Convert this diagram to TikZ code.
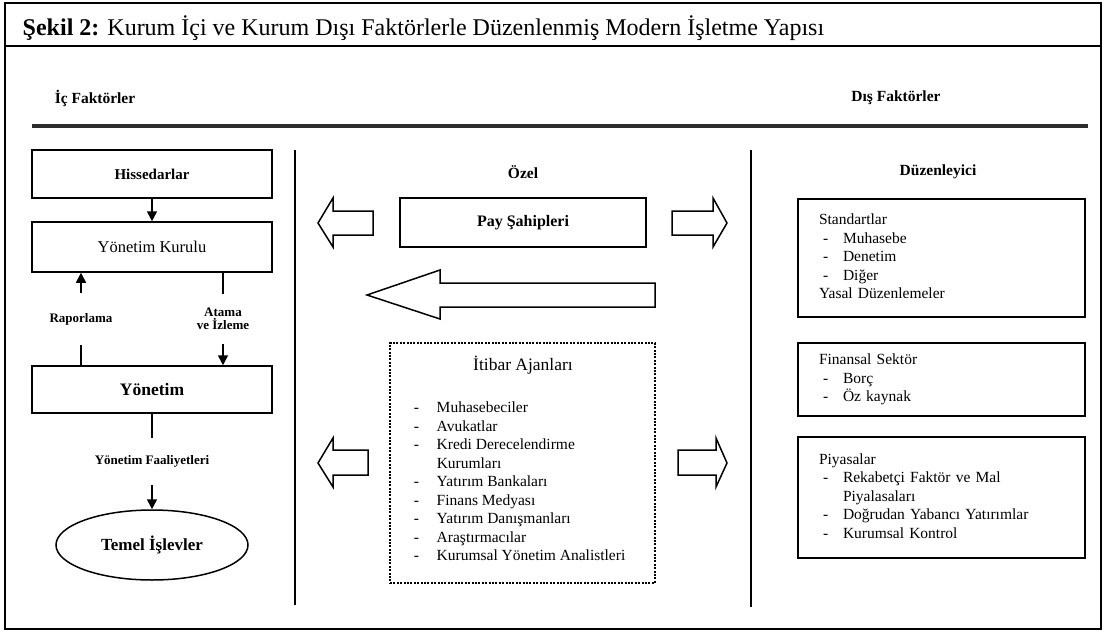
\documentclass[tikz,border=0pt]{standalone}
\usepackage{fontspec}
\setmainfont{Liberation Serif}
\usetikzlibrary{arrows.meta,shapes.geometric}

\tikzset{
  kutu/.style={draw,line width=1.5pt,minimum width=240pt,inner sep=0pt},
  sagkutu/.style={draw,line width=1.5pt,minimum width=287pt,text width=245pt,
    align=left,inner sep=0pt,font=\fontsize{15.5}{18.5}\selectfont},
  baslik/.style={font=\bfseries\fontsize{15.5}{17}\selectfont},
  etiket/.style={font=\bfseries\fontsize{13}{13}\selectfont,fill=white,align=center},
  okucu/.style={-{Triangle[width=10pt,length=10pt]}},
  bosok/.style={draw,line width=1.5pt,line join=miter},
}

\begin{document}
\begin{tikzpicture}[x=1pt,y=-1pt,line width=1.5pt]
\useasboundingbox (0,0) rectangle (1104,632);
% cerceve ve baslik
\draw[line width=1.8pt] (5,3) rectangle (1101,629);
\draw[line width=2.6pt] (5,46) -- (1101,46);
\node[anchor=west,font=\fontsize{24}{26}\selectfont,inner sep=0pt] (sekil) at (22,28)
  {\textbf{Şekil 2:} Kurum İçi ve Kurum Dışı Faktörlerle Düzenlenmiş Modern İşletme Yapısı};
\node[baslik] (ic) at (95,98) {İç Faktörler};
\node[baslik] (dis) at (896,98) {Dış Faktörler};
\draw[line width=3.2pt,gray!35!black] (32,126) -- (1088,126);
\draw[line width=1.6pt] (295,150) -- (295,605);
\draw[line width=1.6pt] (751,150) -- (751,607);

% ic faktorler
\node[kutu,minimum height=48pt,font=\bfseries\fontsize{15}{17}\selectfont] (hisse) at (152,174) {Hissedarlar};
\node[kutu,minimum height=50pt,font=\fontsize{16.5}{18}\selectfont] (kurul) at (152,247) {Yönetim Kurulu};
\node[kutu,minimum height=47pt,font=\bfseries\fontsize{17.5}{19}\selectfont] (yonetim) at (152,389.5) {Yönetim};
\node[ellipse,draw,line width=1.5pt,minimum width=192pt,minimum height=70pt,
  font=\bfseries\fontsize{17}{19}\selectfont] (temel) at (152,545) {Temel İşlevler};
\coordinate (rapx) at (81,0);
\coordinate (atax) at (223,0);
\draw[okucu] (hisse) -- (kurul);
\draw[okucu] (yonetim.north -| rapx) -- node[etiket,inner ysep=20pt] {Raporlama} (kurul.south -| rapx);
\draw[okucu] (kurul.south -| atax) -- node[etiket,inner ysep=14pt] {Atama\\ve İzleme} (yonetim.north -| atax);
\draw[okucu] (yonetim) -- node[etiket,inner ysep=18pt] {Yönetim Faaliyetleri} (temel);

% ozel
\node[baslik] (ozel) at (523,172) {Özel};
\node[draw,minimum width=246pt,minimum height=49pt,baslik,font=\bfseries\fontsize{16}{18}\selectfont] (pay) at (523,222.5) {Pay Şahipleri};
\draw[bosok] (318,223) -- (333,198) -- (333,211) -- (373,211) -- (373,235) -- (333,235) -- (333,247) -- cycle;
\draw[bosok] (727,223) -- (713,198) -- (713,211) -- (672,211) -- (672,235) -- (713,235) -- (713,247) -- cycle;
\draw[bosok] (367,295) -- (440,270) -- (440,283) -- (655,283) -- (655,307) -- (440,307) -- (440,319) -- cycle;
\node[draw,line width=2.3pt,dash pattern=on 2pt off 1.4pt,minimum width=265pt,minimum height=240pt] (itibar) at (522.5,463) {};
\node[font=\fontsize{17.5}{20}\selectfont] (itibarad) at (523,365) {İtibar Ajanları};
\node[anchor=west,inner sep=0pt,font=\fontsize{15.5}{18.5}\selectfont] (ajanlar) at (413,483)
  {\begin{tabular}{@{}p{23pt}@{}l@{}}
   - & Muhasebeciler\\
   - & Avukatlar\\
   - & Kredi Derecelendirme\\
     & Kurumları\\
   - & Yatırım Bankaları\\
   - & Finans Medyası\\
   - & Yatırım Danışmanları\\
   - & Araştırmacılar\\
   - & Kurumsal Yönetim Analistleri
   \end{tabular}};
\draw[bosok] (318,463) -- (333,438) -- (333,450) -- (368,450) -- (368,475) -- (333,475) -- (333,487) -- cycle;
\draw[bosok] (727,463) -- (716,438) -- (716,450) -- (678,450) -- (678,475) -- (716,475) -- (716,487) -- cycle;

% duzenleyici
\node[baslik] (duzen) at (938,172) {Düzenleyici};
\node[sagkutu,minimum height=118pt] (standart) at (941.5,258)
  {\begin{tabular}{@{}p{24pt}@{}l@{}}
   \multicolumn{2}{@{}l@{}}{Standartlar}\\
   \hspace{4pt}- & Muhasebe\\
   \hspace{4pt}- & Denetim\\
   \hspace{4pt}- & Diğer\\
   \multicolumn{2}{@{}l@{}}{Yasal Düzenlemeler}
   \end{tabular}};
\node[sagkutu,minimum height=73pt] (finans) at (941.5,379.5)
  {\begin{tabular}{@{}p{24pt}@{}l@{}}
   \multicolumn{2}{@{}l@{}}{Finansal Sektör}\\
   \hspace{4pt}- & Borç\\
   \hspace{4pt}- & Öz kaynak
   \end{tabular}};
\node[sagkutu,minimum height=121pt] (piyasa) at (941.5,497.5)
  {\begin{tabular}{@{}p{24pt}@{}l@{}}
   \multicolumn{2}{@{}l@{}}{Piyasalar}\\
   \hspace{4pt}- & Rekabetçi Faktör ve Mal\\
     & Piyalasaları\\
   \hspace{4pt}- & Doğrudan Yabancı Yatırımlar\\
   \hspace{4pt}- & Kurumsal Kontrol
   \end{tabular}};
\end{tikzpicture}
\end{document}
